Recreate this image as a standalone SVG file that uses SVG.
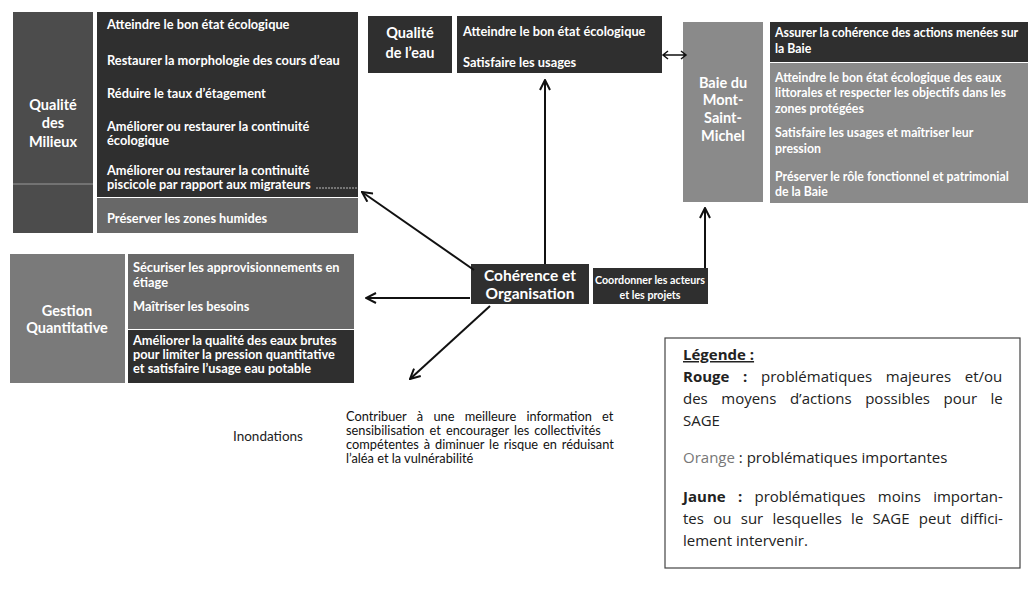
<svg xmlns="http://www.w3.org/2000/svg" width="1030" height="602" viewBox="0 0 1030 602">
<style>
.bx{font-family:Lato,"Liberation Sans",sans-serif;font-weight:bold;fill:#fff;font-size:12.8px}
.bs{font-family:Lato,"Liberation Sans",sans-serif;font-weight:bold;fill:#fff;font-size:12.3px}
.hd{font-family:Lato,"Liberation Sans",sans-serif;font-weight:bold;fill:#fff;font-size:14.5px;text-anchor:middle}
.lg{font-family:"Open Sans",Lato,sans-serif;font-size:15px;fill:#222}
.ct{font-family:Lato,"Open Sans",sans-serif;font-size:12.8px;fill:#111}
.cn{stroke:#111;stroke-width:2;fill:none;marker-end:url(#ah)}
.dk{fill:#2f2f2f}.md{fill:#4c4c4c}.lt{fill:#8a8a8a}.ml{fill:#686868}.gl{fill:#7a7a7a}
</style>
<defs>
<marker id="ah" viewBox="0 0 12 12" refX="11" refY="6" markerWidth="6" markerHeight="6" markerUnits="strokeWidth" orient="auto">
<path d="M1,1 L11,6 L1,11" fill="none" stroke="#111" stroke-width="2"/>
</marker>
</defs>
<rect width="1030" height="602" fill="#fff"/>

<g id="qualite-milieux">
<rect x="13" y="12" width="80" height="221" class="md"/>
<line x1="13" y1="184" x2="93" y2="184" stroke="#999" stroke-width="1"/>
<rect x="97" y="12" width="261" height="185" class="dk"/>
<rect x="97" y="198" width="261" height="35" class="ml"/>
<text class="hd" x="53" y="110">Qualité</text>
<text class="hd" x="53" y="128">des</text>
<text class="hd" x="53" y="147">Milieux</text>
<text class="bx" x="107" y="29">Atteindre le bon état écologique</text>
<text class="bx" x="107" y="65">Restaurer la morphologie des cours d’eau</text>
<text class="bx" x="107" y="98">Réduire le taux d’étagement</text>
<text class="bx" x="107" y="131">Améliorer ou restaurer la continuité</text>
<text class="bx" x="107" y="145">écologique</text>
<text class="bx" x="107" y="175">Améliorer ou restaurer la continuité</text>
<text class="bx" x="107" y="189">piscicole par rapport aux migrateurs</text>
<line x1="316" y1="188" x2="358" y2="188" stroke="#bbb" stroke-width="1" stroke-dasharray="2,1"/>
<text class="bx" x="107" y="223">Préserver les zones humides</text>
</g>

<g id="qualite-eau">
<rect x="368" y="16" width="84" height="57" class="dk"/>
<rect x="457" y="16" width="205" height="57" class="dk"/>
<text class="hd" x="410" y="38">Qualité</text>
<text class="hd" x="410" y="58">de l’eau</text>
<text class="bx" x="463" y="36">Atteindre le bon état écologique</text>
<text class="bx" x="463" y="67">Satisfaire les usages</text>
</g>

<g id="baie">
<rect x="683" y="22" width="80" height="180" class="lt"/>
<rect x="770" y="22" width="258" height="40" class="dk"/>
<rect x="770" y="63" width="258" height="140" class="lt"/>
<text class="hd" x="723" y="88">Baie du</text>
<text class="hd" x="723" y="105">Mont-</text>
<text class="hd" x="723" y="123">Saint-</text>
<text class="hd" x="723" y="141">Michel</text>
<text class="bs" x="775" y="37">Assurer la cohérence des actions menées sur</text>
<text class="bs" x="775" y="53">la Baie</text>
<text class="bs" x="775" y="82">Atteindre le bon état écologique des eaux</text>
<text class="bs" x="775" y="97">littorales et respecter les objectifs dans les</text>
<text class="bs" x="775" y="113">zones protégées</text>
<text class="bs" x="775" y="137">Satisfaire les usages et maîtriser leur</text>
<text class="bs" x="775" y="153">pression</text>
<text class="bs" x="775" y="181">Préserver le rôle fonctionnel et patrimonial</text>
<text class="bs" x="775" y="196">de la Baie</text>
</g>

<g id="gestion-quantitative">
<rect x="10" y="254" width="115" height="129" class="gl"/>
<rect x="128" y="254" width="226" height="75" class="ml"/>
<rect x="128" y="330" width="226" height="53" class="dk"/>
<text class="hd" x="67" y="316">Gestion</text>
<text class="hd" x="67" y="333">Quantitative</text>
<text class="bx" x="133" y="272">Sécuriser les approvisionnements en</text>
<text class="bx" x="133" y="287">étiage</text>
<text class="bx" x="133" y="311">Maîtriser les besoins</text>
<text class="bx" x="133" y="345">Améliorer la qualité des eaux brutes</text>
<text class="bx" x="133" y="359">pour limiter la pression quantitative</text>
<text class="bx" x="133" y="373">et satisfaire l’usage eau potable</text>
</g>

<g id="coherence">
<rect x="471" y="264" width="118" height="40" class="dk"/>
<text class="hd" x="530" y="281" style="font-size:15.5px">Cohérence et</text>
<text class="hd" x="530" y="299" style="font-size:15.5px">Organisation</text>
</g>

<g id="coordonner">
<rect x="593" y="268" width="115" height="36" class="dk"/>
<text class="bx" x="650" y="284" style="font-size:10.7px" text-anchor="middle">Coordonner les acteurs</text>
<text class="bx" x="650" y="299" style="font-size:10.7px" text-anchor="middle">et les projets</text>
</g>

<g id="inondations">
<text x="233" y="441" font-family="Lato,'Open Sans',sans-serif" font-size="13.5" fill="#222">Inondations</text>
<text class="ct" x="346" y="421" word-spacing="7">Contribuer à une meilleure information et</text>
<text class="ct" x="346" y="435" word-spacing="1.8">sensibilisation  et encourager les collectivités</text>
<text class="ct" x="346" y="449" word-spacing="1.6">compétentes à diminuer le risque en réduisant</text>
<text class="ct" x="346" y="463">l’aléa et la vulnérabilité</text>
</g>

<g id="legende">
<rect x="665" y="338" width="355" height="230" fill="#fff" stroke="#444" stroke-width="1.2"/>
<text class="lg" x="683" y="360" font-weight="bold" text-decoration="underline">Légende :</text>
<text class="lg" x="683" y="382" word-spacing="9.8"><tspan font-weight="bold">Rouge :</tspan> problématiques majeures et/ou</text>
<text class="lg" x="683" y="404" word-spacing="9.6">des moyens d’actions possibles pour le</text>
<text class="lg" x="683" y="426">SAGE</text>
<text class="lg" x="683" y="463"><tspan fill="#777">Orange</tspan> : problématiques importantes</text>
<text class="lg" x="683" y="502" word-spacing="8.4"><tspan font-weight="bold">Jaune :</tspan> problématiques moins importan-</text>
<text class="lg" x="683" y="524" word-spacing="5.4">tes ou sur lesquelles le SAGE peut diffici-</text>
<text class="lg" x="683" y="546">lement intervenir.</text>
</g>

<g id="connectors">
<line class="cn" x1="545" y1="264" x2="545" y2="80"/>
<line class="cn" x1="474" y1="270" x2="362" y2="192"/>
<line class="cn" x1="470" y1="298" x2="366" y2="298"/>
<line class="cn" x1="490" y1="306" x2="410" y2="379"/>
<line class="cn" x1="705" y1="268" x2="705" y2="208"/>
<path d="M663,55 H686 M668,51 L663,55 L668,59 M681,51 L686,55 L681,59" fill="none" stroke="#111" stroke-width="1.5"/>
</g>
</svg>
